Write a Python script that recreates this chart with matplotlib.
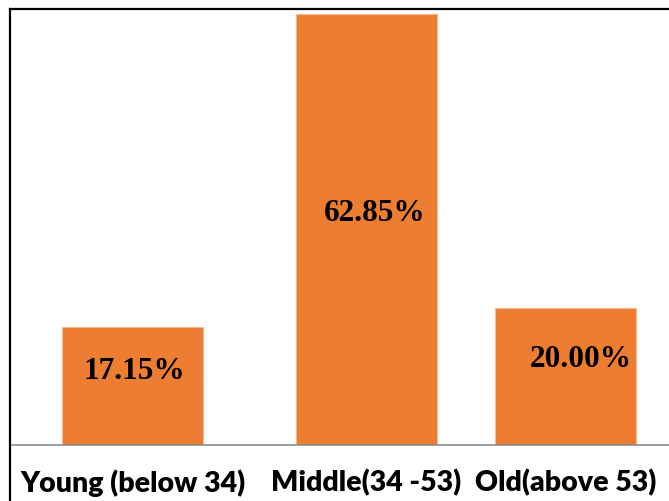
import matplotlib
matplotlib.use("Agg")
import matplotlib.pyplot as plt
from matplotlib.lines import Line2D

# age groups and their share of respondents (%)
groups = ["Young (below 34)", "Middle(34 -53)", "Old(above 53)"]
shares = [17.15, 62.85, 20.00]
labels = ["17.15%", "62.85%", "20.00%"]

# layout of the bars and of the value labels inside them
bar_pos = [0, 1, 1.85]
label_frac = [0.63, 0.54, 0.63]
label_dx = [1, 6, 11]

W, H = 669, 502
fig = plt.figure(figsize=(W / 100, H / 100), dpi=100)
ax = fig.add_axes([10 / W, (H - 446) / H, (W - 10) / W, (446 - 9) / H])

ax.bar(bar_pos, shares, width=0.6, color="#ED7D31", edgecolor="#F6B88F", linewidth=0.8)

for x, v, t, f, dx in zip(bar_pos, shares, labels, label_frac, label_dx):
    ax.annotate(t, (x, v * f), xytext=(dx, 0), textcoords="offset points",
                ha="center", va="center", fontsize=22.5, fontweight="bold",
                family="Liberation Serif", color="black")

ax.set_xlim(-0.524, 2.293)
ax.set_ylim(0, 63.73)
ax.set_xticks(bar_pos)
ax.set_xticklabels(groups, fontsize=20.5, fontweight="heavy", family="Lato")
ax.tick_params(axis="x", length=0, pad=16.5)
ax.set_yticks([])

for s in ["top", "right", "left"]:
    ax.spines[s].set_visible(False)
ax.spines["bottom"].set_color("#8C8C8C")
ax.spines["bottom"].set_linewidth(1.2)

# outer frame: top and left edges
top = 1 - 9.5 / H
fig.add_artist(Line2D([10 / W, 1], [top, top], color="black", lw=1.6))
fig.add_artist(Line2D([10 / W, 10 / W], [0, top], color="black", lw=1.6))

fig.savefig("out.png", dpi=100, facecolor="white")
